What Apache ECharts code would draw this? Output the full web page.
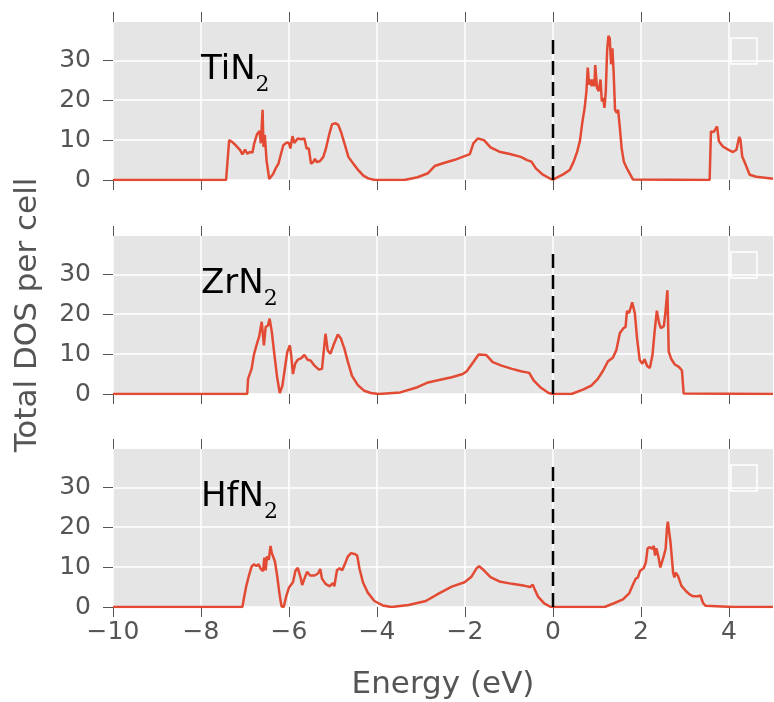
<!DOCTYPE html>
<html>
<head>
<meta charset="utf-8">
<script src="https://cdn.jsdelivr.net/npm/echarts@6.0.0/dist/echarts.min.js"></script>
<style>
  html, body { margin: 0; padding: 0; background: #fff; }
  #dos { width: 774px; height: 702px; }
</style>
</head>
<body>
<div id="dos"></div>
<script>
// tick values
var energyTicks = [-10, -8, -6, -4, -2, 0, 2, 4];
var dosTicks = [0, 10, 20, 30];
var materials = ['TiN', 'ZrN', 'HfN'];

// total DOS per cell, [energy (eV), DOS]
var tin2Dos = [
  [-10, 0], [-7.43, 0], [-7.36, 10.0], [-7.30, 9.6], [-7.21, 8.7], [-7.11, 7.5], [-7.06, 6.4], [-7.0, 7.6],
  [-6.95, 6.6], [-6.89, 7.0], [-6.83, 6.9], [-6.79, 9.2], [-6.73, 11.4], [-6.67, 12.3], [-6.64, 9.2],
  [-6.60, 17.6], [-6.58, 8.3], [-6.55, 11.3], [-6.51, 4.9], [-6.45, 0.25], [-6.41, 0], [-6.36, 1.5],
  [-6.30, 3.0], [-6.24, 4.1], [-6.19, 6.2], [-6.13, 8.7], [-6.05, 9.4], [-6.0, 9.3], [-5.97, 7.9],
  [-5.92, 11.0], [-5.88, 9.3], [-5.80, 10.4], [-5.73, 10.2], [-5.65, 10.4], [-5.60, 7.9], [-5.55, 7.9],
  [-5.50, 4.1], [-5.45, 4.5], [-5.41, 5.3], [-5.37, 4.5], [-5.30, 4.7], [-5.22, 5.8], [-5.16, 7.9],
  [-5.08, 11.7], [-5.02, 14.0], [-4.94, 14.2], [-4.88, 13.8], [-4.82, 12.1], [-4.74, 9.2], [-4.65, 5.8],
  [-4.54, 4.1], [-4.42, 2.4], [-4.31, 1.1], [-4.20, 0.4], [-4.05, 0], [-3.38, 0], [-3.08, 0.7],
  [-2.84, 1.7], [-2.69, 3.5], [-2.50, 4.2], [-2.25, 5.0], [-2.01, 6.0], [-1.89, 6.5], [-1.81, 9.2],
  [-1.71, 10.4], [-1.57, 10.0], [-1.42, 8.2], [-1.22, 7.1], [-0.98, 6.5], [-0.73, 5.8], [-0.59, 5.0],
  [-0.49, 4.6], [-0.39, 2.9], [-0.24, 1.4], [-0.05, 0.25], [0, 0.1], [0.04, 0.4], [0.23, 1.4],
  [0.38, 2.5], [0.47, 4.6], [0.55, 7.1], [0.61, 9.7], [0.67, 14.7], [0.72, 18.1], [0.76, 22.3],
  [0.79, 28.2], [0.82, 23.9], [0.85, 25.2], [0.88, 23.5], [0.91, 25.2], [0.94, 23.5], [0.96, 28.8],
  [1.0, 23.1], [1.04, 22.3], [1.08, 25.2], [1.11, 19.7], [1.14, 20.6], [1.17, 18.1], [1.20, 22.3],
  [1.23, 32.4], [1.26, 36.1], [1.29, 35.5], [1.32, 29.0], [1.35, 33.0], [1.38, 26.5], [1.41, 17.6],
  [1.45, 16.8], [1.48, 17.6], [1.52, 13.0], [1.56, 8.0], [1.61, 4.6], [1.68, 2.9], [1.76, 1.3],
  [1.82, 0.1], [3.56, 0], [3.59, 12.2], [3.62, 11.7], [3.65, 12.0], [3.69, 12.0], [3.73, 13.4],
  [3.77, 9.7], [3.86, 8.4], [3.98, 7.6], [4.09, 7.0], [4.17, 7.6], [4.23, 10.8], [4.26, 10.1],
  [4.30, 5.9], [4.38, 3.8], [4.47, 1.3], [4.62, 0.8], [4.96, 0.4], [5.0, 0.3]
];
var zrn2Dos = [
  [-10, 0], [-6.95, 0], [-6.93, 3.8], [-6.85, 6.3], [-6.80, 9.7], [-6.74, 12.2], [-6.68, 14.3],
  [-6.62, 18.1], [-6.57, 12.2], [-6.53, 16.8], [-6.48, 17.1], [-6.44, 18.9], [-6.39, 15.5], [-6.33, 9.7],
  [-6.27, 4.2], [-6.21, 0.25], [-6.15, 2.1], [-6.09, 6.7], [-6.04, 10.5], [-5.98, 12.2], [-5.95, 9.7],
  [-5.91, 5.0], [-5.86, 7.6], [-5.80, 8.6], [-5.72, 9.0], [-5.65, 9.8], [-5.58, 8.6], [-5.51, 8.4],
  [-5.42, 7.1], [-5.32, 6.1], [-5.25, 6.3], [-5.22, 9.7], [-5.17, 15.1], [-5.12, 10.9], [-5.06, 10.1],
  [-4.99, 12.2], [-4.89, 14.9], [-4.82, 13.9], [-4.74, 11.3], [-4.66, 8.0], [-4.57, 4.6], [-4.44, 2.3],
  [-4.29, 0.8], [-4.14, 0.25], [-3.96, 0], [-3.47, 0.4], [-3.08, 1.7], [-2.84, 2.9], [-2.59, 3.5],
  [-2.30, 4.2], [-2.05, 5.0], [-1.96, 5.7], [-1.81, 8.0], [-1.69, 9.9], [-1.52, 9.8], [-1.37, 8.0],
  [-1.17, 7.1], [-0.93, 6.3], [-0.73, 5.7], [-0.54, 5.3], [-0.44, 3.4], [-0.29, 1.7], [-0.10, 0.25],
  [0, 0], [0.42, 0], [0.45, 0.25], [0.68, 1.1], [0.87, 2.1], [1.02, 3.8], [1.14, 5.9], [1.25, 8.2],
  [1.36, 9.1], [1.44, 11.0], [1.52, 15.3], [1.60, 16.5], [1.65, 16.8], [1.68, 20.8], [1.73, 20.3],
  [1.80, 23.0], [1.86, 20.2], [1.91, 14.0], [1.97, 8.5], [2.03, 7.6], [2.08, 8.7], [2.14, 7.0],
  [2.20, 6.5], [2.26, 9.7], [2.31, 15.7], [2.36, 20.9], [2.41, 17.8], [2.45, 16.5], [2.52, 17.0],
  [2.56, 21.0], [2.60, 26.0], [2.63, 10.6], [2.69, 8.7], [2.77, 7.4], [2.86, 6.8], [2.93, 5.9],
  [2.97, 0.1], [3.0, 0], [5.0, 0]
];
var hfn2Dos = [
  [-10, 0], [-7.06, 0], [-7.03, 1.9], [-6.97, 5.3], [-6.91, 7.9], [-6.85, 10.1], [-6.80, 10.7],
  [-6.74, 10.3], [-6.69, 10.7], [-6.65, 9.7], [-6.61, 10.1], [-6.59, 9.0], [-6.56, 12.4], [-6.53, 9.2],
  [-6.50, 12.7], [-6.46, 11.8], [-6.42, 15.3], [-6.39, 13.5], [-6.36, 14.0], [-6.32, 11.4], [-6.27, 7.9],
  [-6.21, 2.8], [-6.17, 0.2], [-6.12, 0], [-6.06, 2.8], [-6.0, 4.9], [-5.91, 6.2], [-5.85, 9.2],
  [-5.80, 9.8], [-5.74, 7.5], [-5.70, 5.5], [-5.65, 7.1], [-5.59, 8.8], [-5.52, 7.9], [-5.42, 7.9],
  [-5.34, 8.4], [-5.29, 9.5], [-5.25, 7.1], [-5.17, 5.8], [-5.08, 5.2], [-5.0, 6.0], [-4.97, 5.2],
  [-4.91, 9.2], [-4.85, 9.7], [-4.79, 9.2], [-4.74, 10.5], [-4.66, 12.7], [-4.59, 13.5], [-4.51, 13.3],
  [-4.45, 12.9], [-4.40, 9.7], [-4.32, 6.2], [-4.21, 3.6], [-4.06, 1.5], [-3.87, 0.4], [-3.67, 0],
  [-3.28, 0.5], [-2.89, 1.5], [-2.59, 3.4], [-2.30, 5.1], [-2.01, 6.2], [-1.86, 7.5], [-1.73, 9.8],
  [-1.68, 10.2], [-1.57, 9.2], [-1.42, 7.5], [-1.22, 6.4], [-0.93, 5.8], [-0.64, 5.3], [-0.52, 5.0],
  [-0.46, 5.6], [-0.42, 4.5], [-0.34, 2.6], [-0.20, 0.9], [-0.05, 0], [1.17, 0], [1.21, 0.3],
  [1.40, 1.0], [1.59, 1.9], [1.73, 3.4], [1.82, 5.7], [1.88, 7.1], [1.93, 7.4], [1.98, 9.1],
  [2.06, 9.7], [2.11, 11.2], [2.15, 14.7], [2.20, 15.0], [2.25, 14.6], [2.29, 15.3], [2.32, 12.9],
  [2.35, 14.7], [2.39, 12.9], [2.44, 9.9], [2.48, 10.3], [2.52, 12.9], [2.56, 14.6], [2.59, 19.7],
  [2.61, 21.4], [2.64, 18.8], [2.67, 16.3], [2.70, 16.3], [2.73, 8.6], [2.76, 7.4], [2.79, 8.6],
  [2.84, 7.8], [2.92, 5.3], [3.02, 4.0], [3.11, 3.1], [3.18, 2.7], [3.30, 2.7], [3.35, 2.9],
  [3.41, 1.0], [3.47, 0.3], [3.71, 0.2], [4.09, 0], [5.0, 0]
];
var fermiLine = [[0, 0], [0, 36]];

var panelDos = [tin2Dos, zrn2Dos, hfn2Dos];
var gridTops = [22, 236, 449];
var gridH = 158;
var gridL = 113;
var gridW = 660;
var tickColor = '#555555';

function minus(v) { return v < 0 ? '\u2212' + Math.abs(v) : String(v); }

var grids = [], xAxes = [], yAxes = [], series = [], graphics = [];
gridTops.forEach(function (top, i) {
  var last = i === gridTops.length - 1;
  grids.push({ left: gridL, top: top, width: gridW, height: gridH, show: true,
    backgroundColor: '#E5E5E5', borderWidth: 0 });
  xAxes.push({
    type: 'value', gridIndex: i, min: -10, max: 5, interval: 2, position: 'bottom',
    axisLine: { show: false, onZero: false },
    axisTick: { show: true, length: 10, lineStyle: { color: tickColor, width: 1 }, customValues: energyTicks },
    axisLabel: { show: last, customValues: energyTicks, formatter: minus, color: tickColor,
      fontSize: 25, fontFamily: 'DejaVu Sans', margin: 13 },
    splitLine: { show: true, lineStyle: { color: '#ffffff', width: 1.5 } },
    name: last ? 'Energy (eV)' : '', nameLocation: 'middle', nameGap: 62,
    nameTextStyle: { color: tickColor, fontSize: 31, fontFamily: 'DejaVu Sans' }
  });
  xAxes.push({
    type: 'value', gridIndex: i, min: -10, max: 5, interval: 2, position: 'top',
    axisLine: { show: false, onZero: false },
    axisTick: { show: true, length: 10, lineStyle: { color: tickColor, width: 1 }, customValues: energyTicks },
    axisLabel: { show: false }, splitLine: { show: false }
  });
  yAxes.push({
    type: 'value', gridIndex: i, min: 0, max: 39.6, interval: 10,
    axisLine: { show: false, onZero: false },
    axisTick: { show: true, length: 10, lineStyle: { color: tickColor, width: 1 }, customValues: dosTicks },
    axisLabel: { customValues: dosTicks, color: tickColor, fontSize: 25, fontFamily: 'DejaVu Sans', margin: 22 },
    splitLine: { show: true, lineStyle: { color: '#ffffff', width: 1.5 } },
    name: i === 1 ? 'Total DOS per cell' : '', nameLocation: 'middle', nameGap: 70,
    nameTextStyle: { color: tickColor, fontSize: 31, fontFamily: 'DejaVu Sans' }
  });
  series.push({
    type: 'line', xAxisIndex: i * 2, yAxisIndex: i, data: panelDos[i],
    showSymbol: false, symbol: 'none', clip: true,
    lineStyle: { color: '#E24A33', width: 2.5 }
  });
  series.push({
    type: 'line', xAxisIndex: i * 2, yAxisIndex: i, data: fermiLine,
    showSymbol: false, symbol: 'none',
    lineStyle: { color: '#000000', width: 2.5, type: [14, 7] }
  });
  graphics.push({
    type: 'text', x: 201, y: top + 31, z: 100,
    style: {
      text: '{m|' + materials[i] + '}{s|2}',
      rich: {
        m: { fontSize: 34, fontFamily: 'DejaVu Sans', fill: '#000', padding: [0, 0, 9, 0], verticalAlign: 'bottom' },
        s: { fontSize: 22, fontFamily: 'DejaVu Serif', fill: '#000', verticalAlign: 'bottom' }
      }
    }
  });
  graphics.push({
    type: 'rect', z: 100,
    shape: { x: 731, y: top + 16, width: 26, height: 26 },
    style: { fill: 'none', stroke: '#ffffff', lineWidth: 1.5 }
  });
});

var chart = echarts.init(document.getElementById('dos'));
chart.setOption({
  animation: false,
  grid: grids,
  xAxis: xAxes,
  yAxis: yAxes,
  series: series,
  graphic: graphics
});
</script>
</body>
</html>
